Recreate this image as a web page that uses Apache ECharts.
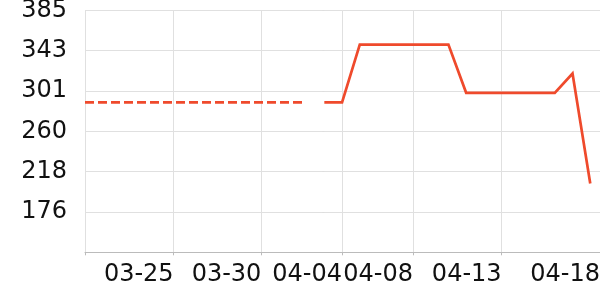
<!DOCTYPE html>
<html>
<head>
<meta charset="utf-8">
<script src="https://cdn.jsdelivr.net/npm/echarts@6/dist/echarts.min.js"></script>
<style>html,body{margin:0;padding:0;background:#fff}#c{width:600px;height:300px}</style>
</head>
<body>
<div id="c"></div>
<script>
// x is measured in days, 0 = 04-03
const actualDates = ['04-03','04-04','04-05','04-06','04-07','04-08','04-09','04-10','04-11','04-12','04-13','04-14','04-15','04-16','04-17','04-18'];
const actualValues = [290,290,350,350,350,350,350,350,300,300,300,300,300,300,320,206];
const baselineDays = [-13.5, -1.2];
const baselineValues = [290, 290];
const tickLabels = ['03-25','03-30','04-04','04-08','04-13','04-18'];
const tickDays = [-8.5, -3.55, 1, 5, 10, 15.55];
const xMin = -13.5, xMax = 15.55;
const yMin = 134.7, yMax = 385.5, yStep = 41.8;

const color = '#EF4A2C';
const chart = echarts.init(document.getElementById('c'), null, {renderer: 'canvas'});
chart.setOption({
  animation: false,
  grid: {left: 85, right: 0, top: 10.3, bottom: 47.7, containLabel: false, outerBoundsMode: 'none'},
  xAxis: {
    type: 'value', min: xMin, max: xMax,
    axisLine: {show: true, lineStyle: {color: '#bbb', width: 1}},
    axisTick: {show: true, length: 3, lineStyle: {color: '#bbb'}, customValues: [xMin].concat(tickDays)},
    splitLine: {show: true, lineStyle: {color: '#e0e0e0', width: 1}},
    axisLabel: {
      customValues: tickDays, align: 'right', margin: 10,
      fontFamily: 'DejaVu Sans', fontSize: 24, color: '#111',
      formatter: v => { const i = tickDays.findIndex(d => Math.abs(d - v) < 1e-6); return i >= 0 ? tickLabels[i] : ''; }
    }
  },
  yAxis: {
    type: 'value', min: yMin, max: yMax, interval: yStep,
    axisLine: {show: false},
    axisTick: {show: true, length: 2, lineStyle: {color: '#ddd'}},
    splitLine: {show: true, lineStyle: {color: '#e0e0e0', width: 1}},
    axisLabel: {
      showMinLabel: false, margin: 18,
      fontFamily: 'DejaVu Sans', fontSize: 24, color: '#111',
      formatter: v => String(Math.floor(v + 1e-9))
    }
  },
  series: [
    {
      type: 'line', showSymbol: false, silent: true,
      data: baselineDays.map((d, i) => [d, baselineValues[i]]),
      lineStyle: {color: color, width: 2.7, type: [9, 4]}, itemStyle: {color: color}
    },
    {
      type: 'line', showSymbol: false, silent: true,
      data: actualDates.map((d, i) => [i, actualValues[i]]),
      lineStyle: {color: color, width: 2.7, join: 'miter'}, itemStyle: {color: color}
    }
  ]
});
</script>
</body>
</html>
